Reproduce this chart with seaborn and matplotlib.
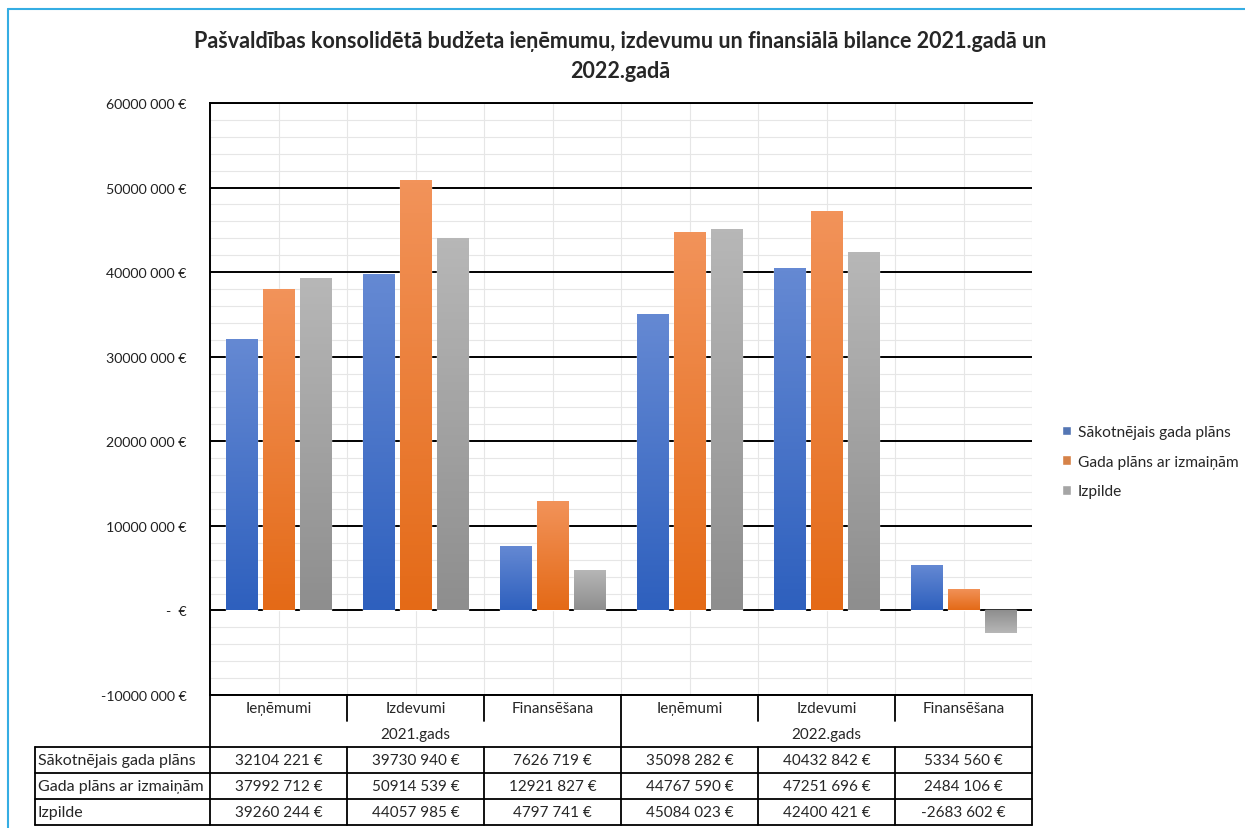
import numpy as np
import pandas as pd
import matplotlib
matplotlib.use("Agg")
import matplotlib.pyplot as plt
from matplotlib.colors import LinearSegmentedColormap
from matplotlib.lines import Line2D
import seaborn as sns

# Data
years = ["2021.gads", "2022.gads"]
categories = ["Ieņēmumi", "Izdevumi", "Finansēšana"]
series = ["Sākotnējais gada plāns", "Gada plāns ar izmaiņām", "Izpilde"]
sakotnejais = [32104221, 39730940, 7626719, 35098282, 40432842, 5334560]
ar_izmainam = [37992712, 50914539, 12921827, 44767590, 47251696, 2484106]
izpilde = [39260244, 44057985, 4797741, 45084023, 42400421, -2683602]

colors = ["#4472C4", "#ED7D31", "#A5A5A5"]
grad_top = ["#6589D3", "#F2935A", "#B7B7B7"]
grad_bot = ["#2E60BE", "#E46A17", "#8E8E8E"]

sns.set_style("white")
plt.rcParams["font.family"] = ["Lato", "DejaVu Sans"]

# long table for seaborn
slots = [f"{y} {c}" for y in years for c in categories]
rows = []
for name, vals in zip(series, [sakotnejais, ar_izmainam, izpilde]):
    for s, v in zip(slots, vals):
        rows.append({"slot": s, "series": name, "value": v})
df = pd.DataFrame(rows)


def fmt(v):
    if v == 0:
        return "-  €"
    a = abs(int(v))
    sign = "-" if v < 0 else ""
    if a >= 1000:
        return f"{sign}{a // 1000} {a % 1000:03d} €"
    return f"{sign}{a} €"


W, H = 1245, 829
fig = plt.figure(figsize=(W / 100, H / 100), dpi=100)

x0, x1 = 210, 1032
y_top, y_bot = 104, 696
ax = fig.add_axes([x0 / W, 1 - y_bot / H, (x1 - x0) / W, (y_bot - y_top) / H])

sns.barplot(data=df, x="slot", y="value", hue="series", order=slots,
            hue_order=series, palette=colors, width=0.8, gap=0.15,
            ax=ax, legend=True, zorder=3)

# gradient fill on the bars
for i, cont in enumerate(ax.containers):
    cmap = LinearSegmentedColormap.from_list("g", [grad_bot[i], grad_top[i]])
    for p in cont.patches:
        x, y, w, h = p.get_x(), p.get_y(), p.get_width(), p.get_height()
        grad = np.linspace(0, 1, 100).reshape(-1, 1)
        if h < 0:
            grad = grad[::-1]
        im = ax.imshow(grad, extent=[x, x + w, min(y, y + h), max(y, y + h)],
                       origin="lower", aspect="auto", cmap=cmap, zorder=3.5)
        im.set_clip_path(p)

ax.set_xlim(-0.5, 5.5)
ax.set_ylim(-10e6, 60e6)
ax.set_aspect("auto")

# grid
ax.set_yticks(np.arange(-10e6, 60e6 + 1, 10e6))
ax.set_yticks(np.arange(-10e6, 60e6 + 1, 2e6), minor=True)
ax.set_xticks(np.arange(-0.5, 5.6, 0.5), minor=True)
ax.set_xticks([])
ax.grid(which="minor", color="#E6E6E6", lw=0.8, zorder=0)
ax.grid(which="major", axis="y", color="black", lw=1.4, zorder=1)
ax.set_yticklabels([fmt(v) for v in ax.get_yticks()], fontsize=10.2, color="#222222")
ax.tick_params(axis="y", which="both", length=0, pad=17)
ax.tick_params(axis="x", which="both", length=0, labelbottom=False)
ax.set_xlabel("")
ax.set_ylabel("")
for side in ["left", "top", "bottom"]:
    ax.spines[side].set_color("black")
    ax.spines[side].set_linewidth(1.4)
ax.spines["right"].set_visible(False)

# legend
handles, labels = ax.get_legend_handles_labels()
ax.get_legend().remove()
fig.legend(handles, labels, loc="upper left",
           bbox_to_anchor=(1048 / W, 1 - 412 / H), frameon=False,
           fontsize=11.2, handlelength=0.6, handleheight=0.6,
           handletextpad=0.4, labelspacing=1.0)

# title
fig.text(620 / W, 1 - 42 / H,
         "Pašvaldības konsolidētā budžeta ieņēmumu, izdevumu un finansiālā bilance 2021.gadā un",
         ha="center", va="center", fontsize=15.5, fontweight="bold")
fig.text(620 / W, 1 - 72 / H, "2022.gadā", ha="center", va="center",
         fontsize=15.5, fontweight="bold")

# data table under the chart
cat_w = (x1 - x0) / 6
lab_x = 35
row_h = 26
tab = fig.add_axes([lab_x / W, 1 - (y_bot + 5 * row_h) / H,
                    (x1 - lab_x) / W, 5 * row_h / H])
tab.set_xlim(-0.5 - (x0 - lab_x) / cat_w, 5.5)
tab.set_ylim(5, 0)
tab.axis("off")
left = -0.5 - (x0 - lab_x) / cat_w
lk = dict(color="black", lw=1.3, clip_on=False)
fs = 11
# header row: categories
for i, s in enumerate(slots):
    tab.text(i, 0.5, s.split(" ", 1)[1], ha="center", va="center", fontsize=fs)
for b in [0.5, 1.5, 3.5, 4.5]:
    tab.plot([b, b], [0, 1], **lk)
# year row
for j, yname in enumerate(years):
    tab.text(3 * j + 1, 1.5, yname, ha="center", va="center", fontsize=fs)
tab.plot([-0.5, -0.5], [0, 5], **lk)
tab.plot([2.5, 2.5], [0, 5], **lk)
tab.plot([5.5, 5.5], [0, 5], **lk)
# value rows
for r, (name, vals) in enumerate(zip(series, [sakotnejais, ar_izmainam, izpilde])):
    yy = 2.5 + r
    tab.text(left + 0.02, yy, name, ha="left", va="center", fontsize=fs + 0.5)
    for i, v in enumerate(vals):
        tab.text(i, yy, fmt(v), ha="center", va="center", fontsize=fs)
for yy in [2, 3, 4, 5]:
    tab.plot([left, 5.5], [yy, yy], **lk)
tab.plot([left, left], [2, 5], **lk)
for b in [0.5, 1.5, 3.5, 4.5]:
    tab.plot([b, b], [2, 5], **lk)

# outer frame lines like the source screenshot
fig.add_artist(Line2D([8 / W, 1], [1 - 10 / H, 1 - 10 / H], color="#35ADE3", lw=1.5))
fig.add_artist(Line2D([8 / W, 8 / W], [0, 1 - 10 / H], color="#35ADE3", lw=1.5))

fig.savefig("out.png", dpi=100)
